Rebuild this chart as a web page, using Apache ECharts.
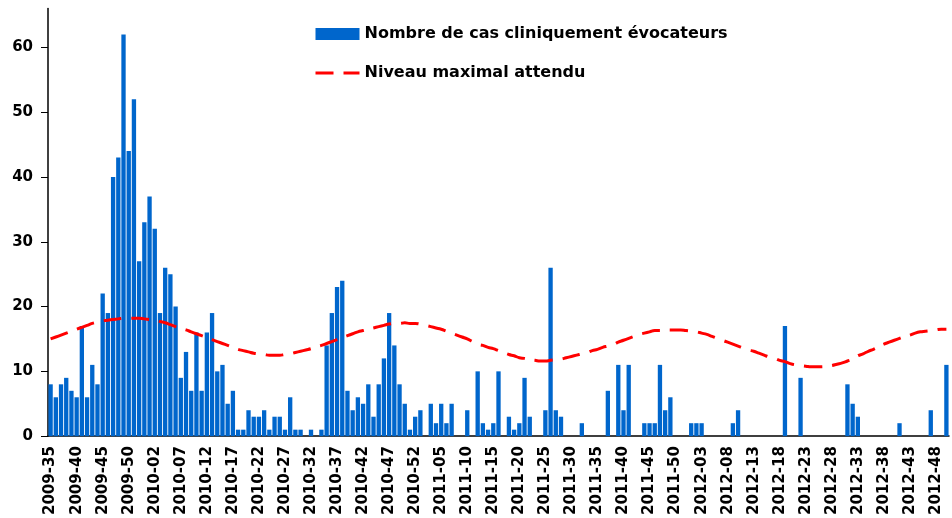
<!DOCTYPE html>
<html>
<head>
<meta charset="utf-8">
<script src="https://cdn.jsdelivr.net/npm/echarts@6/dist/echarts.min.js"></script>
<style>
  html, body { margin: 0; padding: 0; background: #fff; }
  #chart { width: 952px; height: 518px; }
</style>
</head>
<body>
<div id="chart"></div>
<script>
  // weeks: first year starts at week 35, last one stops at week 50
  var years = [2009, 2010, 2011, 2012];
  var firstWeek = [35, 1, 1, 1];
  var lastWeek = [53, 52, 52, 50];

  // nombre de cas cliniquement évocateurs, par semaine
  var casEvocateurs = [
    8, 6, 8, 9, 7, 6, 17, 6, 11, 8,
    22, 19, 40, 43, 62, 44, 52, 27, 33, 37,
    32, 19, 26, 25, 20, 9, 13, 7, 16, 7,
    16, 19, 10, 11, 5, 7, 1, 1, 4, 3,
    3, 4, 1, 3, 3, 1, 6, 1, 1, 0,
    1, 0, 1, 14, 19, 23, 24, 7, 4, 6,
    5, 8, 3, 8, 12, 19, 14, 8, 5, 1,
    3, 4, 0, 5, 2, 5, 2, 5, 0, 0,
    4, 0, 10, 2, 1, 2, 10, 0, 3, 1,
    2, 9, 3, 0, 0, 4, 26, 4, 3, 0,
    0, 0, 2, 0, 0, 0, 0, 7, 0, 11,
    4, 11, 0, 0, 2, 2, 2, 11, 4, 6,
    0, 0, 0, 2, 2, 2, 0, 0, 0, 0,
    0, 2, 4, 0, 0, 0, 0, 0, 0, 0,
    0, 17, 0, 0, 9, 0, 0, 0, 0, 0,
    0, 0, 0, 8, 5, 3, 0, 0, 0, 0,
    0, 0, 0, 2, 0, 0, 0, 0, 0, 4,
    0, 0, 11
  ];

  // niveau maximal attendu (courbe saisonniere)
  var niveauMax = [
    15.0, 15.3, 15.6, 15.9, 16.2, 16.5, 16.8, 17.1, 17.4, 17.6,
    17.8, 17.9, 18.0, 18.1, 18.2, 18.2, 18.2, 18.2, 18.1, 18.0,
    17.9, 17.7, 17.5, 17.2, 16.9, 16.6, 16.4, 16.1, 15.8, 15.5,
    15.2, 14.9, 14.6, 14.3, 14.0, 13.7, 13.4, 13.2, 13.0, 12.8,
    12.7, 12.6, 12.5, 12.5, 12.5, 12.6, 12.7, 12.9, 13.1, 13.3,
    13.5, 13.8, 14.0, 14.3, 14.6, 14.9, 15.2, 15.5, 15.8, 16.1,
    16.3, 16.5, 16.7, 16.9, 17.1, 17.3, 17.4, 17.4, 17.5, 17.4,
    17.4, 17.3, 17.1, 16.9, 16.7, 16.5, 16.2, 15.9, 15.6, 15.3,
    15.0, 14.6, 14.2, 14.0, 13.7, 13.5, 13.2, 12.9, 12.6, 12.4,
    12.1, 12.0, 11.8, 11.7, 11.6, 11.6, 11.7, 11.8, 11.9, 12.1,
    12.3, 12.5, 12.7, 12.9, 13.2, 13.4, 13.7, 13.9, 14.1, 14.5,
    14.8, 15.1, 15.4, 15.7, 15.9, 16.1, 16.3, 16.3, 16.4, 16.4,
    16.4, 16.4, 16.3, 16.2, 16.1, 15.9, 15.7, 15.4, 15.1, 14.8,
    14.5, 14.2, 13.9, 13.6, 13.3, 13.1, 12.8, 12.5, 12.2, 12.0,
    11.7, 11.5, 11.2, 11.0, 10.9, 10.8, 10.7, 10.7, 10.7, 10.8,
    10.9, 11.1, 11.3, 11.6, 11.9, 12.4, 12.7, 13.1, 13.4, 13.8,
    14.2, 14.5, 14.8, 15.1, 15.4, 15.6, 15.9, 16.1, 16.2, 16.3,
    16.4, 16.5, 16.5
  ];

  var yTicks = [0, 10, 20, 30, 40, 50, 60];

  var semaines = [];
  for (var y = 0; y < years.length; y++) {
    for (var w = firstWeek[y]; w <= lastWeek[y]; w++) {
      semaines.push(years[y] + '-' + (w < 10 ? '0' + w : w));
    }
  }

  var font = 'DejaVu Sans';
  var dash = [18, 10];

  var chart = echarts.init(document.getElementById('chart'));
  chart.setOption({
    animation: false,
    grid: {
      left: 48,
      right: 3,
      top: 8.5,
      bottom: 81.5
    },
    legend: {
      orient: 'vertical',
      left: 309,
      top: 21,
      itemWidth: 44,
      itemHeight: 12,
      itemGap: 23,
      textStyle: {
        fontFamily: font,
        fontWeight: 'bold',
        fontSize: 16,
        lineHeight: 12,
        color: '#000'
      },
      data: [
        { name: 'Nombre de cas cliniquement évocateurs', icon: 'rect' },
        {
          name: 'Niveau maximal attendu',
          itemStyle: { opacity: 0 },
          lineStyle: { type: dash, width: 3, color: '#FF0000' }
        }
      ]
    },
    xAxis: {
      type: 'category',
      data: semaines,
      axisLine: { lineStyle: { color: '#000', width: 1.5 } },
      axisTick: { interval: 0, length: 7, lineStyle: { color: '#000' } },
      axisLabel: {
        interval: 4,
        rotate: 90,
        margin: 10,
        fontFamily: font,
        fontWeight: 'bold',
        fontSize: 15,
        color: '#000'
      },
      splitLine: { show: false }
    },
    yAxis: {
      type: 'value',
      min: 0,
      max: 66,
      interval: 10,
      axisLine: { show: true, lineStyle: { color: '#000', width: 1.5 } },
      axisTick: { show: true, length: 7, customValues: yTicks, lineStyle: { color: '#000' } },
      axisLabel: {
        customValues: yTicks,
        margin: 15,
        fontFamily: font,
        fontWeight: 'bold',
        fontSize: 15,
        color: '#000'
      },
      splitLine: { show: false }
    },
    series: [
      {
        name: 'Nombre de cas cliniquement évocateurs',
        type: 'bar',
        barCategoryGap: '17%',
        itemStyle: { color: '#0066CC' },
        data: casEvocateurs
      },
      {
        name: 'Niveau maximal attendu',
        type: 'line',
        symbol: 'none',
        smooth: true,
        itemStyle: { color: '#FF0000' },
        lineStyle: { color: '#FF0000', width: 3, type: dash },
        data: niveauMax
      }
    ]
  });
</script>
</body>
</html>
